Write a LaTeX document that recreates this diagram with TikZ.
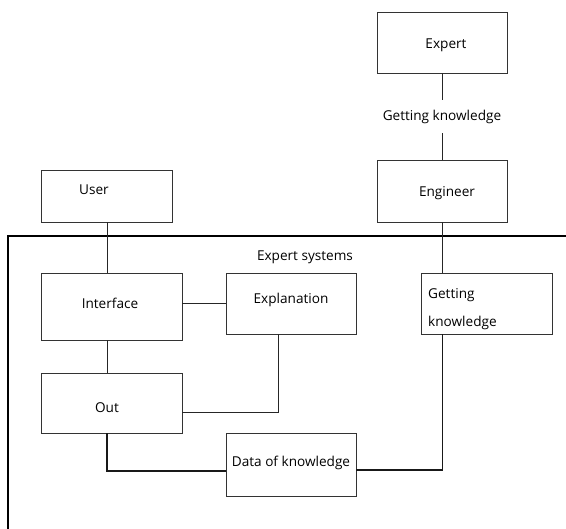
\documentclass[tikz,border=0pt]{standalone}
\usepackage{fontspec}
\setmainfont{Open Sans}
\begin{document}
\begin{tikzpicture}[x=1pt,y=-1pt,
  box/.style={draw=black!80,line width=0.9pt,inner sep=0pt,rectangle},
  lbl/.style={inner sep=1pt,font=\fontsize{13.6}{16}\selectfont,text=black},
  wire/.style={draw=black!85,line width=0.9pt},
  heavy/.style={draw=black!90,line width=1.8pt}]
\useasboundingbox (0,0) rectangle (566,529);
% frame of the expert system
\draw[line width=1.4pt] (8,529) -- (8,236);
\draw[line width=2.4pt] (7.3,236) -- (566,236);
% boxes
\node[box,minimum width=130pt,minimum height=61pt] (expert) at (442,42.5) {};
\node[box,minimum width=130pt,minimum height=62pt] (engineer) at (442,191) {};
\node[box,minimum width=131pt,minimum height=52pt] (user) at (106.5,196) {};
\node[box,minimum width=141pt,minimum height=67pt] (interface) at (111.5,306.5) {};
\node[box,minimum width=130pt,minimum height=61pt] (explain) at (291,303.5) {};
\node[box,minimum width=131pt,minimum height=61pt] (getknow) at (486.5,303.5) {};
\node[box,minimum width=141pt,minimum height=60pt] (out) at (111.5,403) {};
\node[box,minimum width=130pt,minimum height=63pt] (data) at (291,464.5) {};
% texts
\node[lbl] (expertT) at (446,45) {Expert};
\node[lbl] (engineerT) at (447,193) {Engineer};
\node[lbl] (userT) at (94,190) {User};
\node[lbl] (interfaceT) at (110,303) {Interface};
\node[lbl] (explainT) at (291,300) {Explanation};
\node[lbl,anchor=west,align=left,font=\fontsize{13.6}{28}\selectfont] (getknowT) at (427,309) {Getting\\knowledge};
\node[lbl] (outT) at (107,408) {Out};
\node[lbl] (dataT) at (291,463) {Data of knowledge};
\node[lbl] (sysT) at (305,257) {Expert systems};
% connectors
\coordinate (ucol) at (107,0);
\coordinate (gcol) at (442.5,0);
\coordinate (ecol) at (278,0);
\draw[wire] (expert.south) -- node[lbl,fill=white,inner ysep=10pt] (gkT) {Getting knowledge} (engineer.north);
\draw[wire] (user.south -| ucol) -- (interface.north -| ucol);
\draw[wire] (interface.south -| ucol) -- (out.north -| ucol);
\draw[wire] (interface.east |- explain) -- (explain.west);
\draw[wire] (explain.south -| ecol) |- (out.east |- 0,412);
\draw[wire,line width=1.2pt] (engineer.south -| gcol) -- (getknow.north -| gcol);
\draw[heavy] (out.south -| ucol) |- (data.west |- 0,471);
\draw[heavy] (getknow.south -| gcol) |- (data.east |- 0,470);
\end{tikzpicture}
\end{document}
